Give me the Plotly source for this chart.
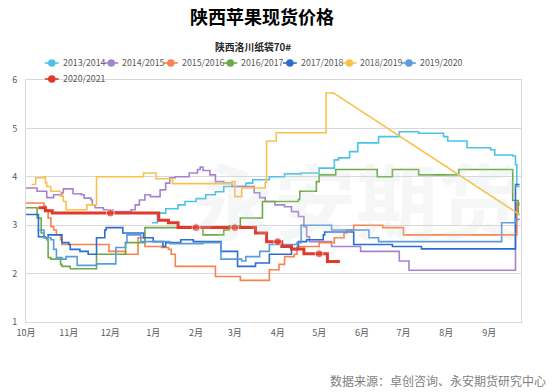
import plotly.graph_objects as go
from datetime import date, timedelta

# ---------------- data (days since 1 Oct, price in 元/斤) ----------------
seasons = ["2013/2014", "2014/2015", "2015/2016", "2016/2017",
           "2017/2018", "2018/2019", "2019/2020", "2020/2021"]
colors = ["#4cc2e9", "#a683cf", "#f7824c", "#6aab45",
          "#2e6dd0", "#f9c14c", "#5a9bdc", "#e2392b"]

days_1314 = [91, 95, 101, 110, 115, 123, 130, 137, 143, 159, 164, 176, 187, 199, 212, 223, 226, 234,
             240, 255, 270, 284, 302, 305, 319, 336, 339, 352, 354, 355, 357]
vals_1314 = [3.05, 3.25, 3.34, 3.42, 3.49, 3.55, 3.63, 3.69, 3.80, 3.87, 3.94, 4.00, 4.06, 4.08, 4.18, 4.35, 4.39, 4.52,
             4.70, 4.83, 4.93, 4.90, 4.83, 4.74, 4.60, 4.56, 4.45, 4.43, 4.25, 3.80, 3.80]

days_1415 = [0, 8, 15, 20, 26, 27, 34, 40, 42, 47, 48, 50, 56, 63, 76, 79, 82, 86, 90, 97, 101, 104, 108,
             118, 124, 126, 128, 133, 137, 143, 149, 165, 169, 173, 180, 187, 192, 197, 201, 203, 205,
             221, 242, 270, 277, 354, 357]
vals_1415 = [3.77, 3.70, 3.57, 3.63, 3.67, 3.75, 3.65, 3.63, 3.56, 3.52, 3.42, 3.36, 3.32, 3.28, 3.32, 3.42,
             3.52, 3.63, 3.59, 3.73, 3.87, 3.98, 4.00, 4.08, 4.15, 4.20, 4.13, 4.04, 3.90, 3.87, 3.80, 3.67,
             3.57, 3.49, 3.42, 3.38, 3.28, 3.18, 2.97, 2.76, 2.66, 2.56, 2.46, 2.26, 2.07, 3.46, 3.46]

days_1516 = [0, 13, 14, 16, 18, 20, 22, 25, 26, 60, 72, 81, 86, 98, 103, 105, 108, 137, 155, 176, 183,
             187, 194, 196, 212, 223, 230, 232, 237, 258, 273, 355, 357]
vals_1516 = [3.46, 3.40, 3.32, 3.15, 2.97, 2.90, 2.80, 2.70, 2.60, 2.46, 2.40, 2.74, 2.56, 2.54, 2.50, 2.40,
             2.15, 1.94, 1.86, 2.08, 2.19, 2.35, 2.40, 2.56, 2.64, 2.74, 2.84, 2.90, 3.00, 2.95, 2.80, 3.42, 3.42]

days_1617 = [0, 8, 11, 13, 15, 16, 18, 25, 26, 32, 51, 72, 86, 128, 143, 147, 155, 171, 197, 198, 210,
             212, 224, 254, 265, 284, 313, 352, 356, 357]
vals_1617 = [3.36, 3.15, 2.84, 2.74, 2.70, 2.33, 2.30, 2.19, 2.15, 2.10, 2.40, 2.64, 2.95, 2.80, 2.90, 2.99,
             3.15, 3.49, 3.53, 3.70, 3.90, 4.04, 4.15, 4.00, 4.15, 4.04, 4.15, 3.51, 3.22, 3.22]

days_1718 = [0, 9, 14, 16, 26, 31, 32, 39, 45, 51, 57, 58, 70, 85, 92, 99, 101, 112, 121, 141, 153, 166,
             176, 192, 197, 203, 215, 216, 237, 265, 286, 354, 357]
vals_1718 = [3.22, 2.76, 2.74, 2.80, 2.64, 2.60, 2.50, 2.46, 2.40, 2.74, 2.90, 2.95, 2.84, 2.74, 2.66, 2.56,
             2.64, 2.70, 2.66, 2.46, 2.15, 2.22, 2.40, 2.50, 2.66, 2.70, 2.80, 2.86, 2.60, 2.56, 2.51, 3.84, 3.84]

days_1819 = [4, 7, 13, 14, 15, 18, 25, 27, 29, 44, 51, 85, 94, 106, 149, 151, 156, 173, 174, 181, 217,
             222, 355, 357]
vals_1819 = [3.84, 3.98, 4.00, 3.88, 3.80, 3.70, 3.60, 3.49, 3.32, 3.42, 4.00, 4.08, 3.96, 3.86, 3.90, 3.59,
             3.77, 3.88, 4.74, 4.91, 5.73, 5.74, 3.25, 3.22]
gap_from_1819 = 222  # no quotes after this day: the line joins straight to the next quote

days_1920 = [8, 13, 18, 20, 22, 26, 29, 37, 51, 65, 72, 73, 83, 104, 128, 141, 156, 159, 169, 176, 196,
             199, 221, 248, 255, 344, 354, 357]
vals_1920 = [2.90, 2.74, 2.70, 2.50, 2.33, 2.30, 2.35, 2.17, 2.20, 2.54, 2.64, 2.80, 2.66, 2.62, 2.64, 2.30,
             2.26, 2.35, 2.46, 2.60, 2.64, 3.00, 2.90, 2.74, 2.66, 3.05, 3.12, 3.12]

days_2021 = [9, 14, 19, 61, 96, 103, 110, 123, 151, 166, 174, 182, 185, 192, 201, 212, 218, 227]
vals_2021 = [3.36, 3.30, 3.25, 3.25, 3.10, 3.05, 2.95, 2.95, 2.95, 2.84, 2.66, 2.66, 2.56, 2.51, 2.41, 2.41,
             2.25, 2.25]
marked_days_2021 = [61, 123, 151, 182, 212]

month_labels = ["10月", "11月", "12月", "1月", "2月", "3月", "4月", "5月", "6月", "7月", "8月", "9月"]
y_ticks = [1, 2, 3, 4, 5, 6]

all_days = [days_1314, days_1415, days_1516, days_1617, days_1718, days_1819, days_1920, days_2021]
all_vals = [vals_1314, vals_1415, vals_1516, vals_1617, vals_1718, vals_1819, vals_1920, vals_2021]

# ---------------- figure ----------------
BASE = date(2014, 10, 1)


def to_dates(ds):
    return [BASE + timedelta(days=d) for d in ds]


month_starts = []
y, m = 2014, 10
for _ in month_labels:
    month_starts.append(date(y, m, 1))
    m += 1
    if m > 12:
        m, y = 1, y + 1

W, H = 556, 392
PL, PR, PT, PB = 22, 521, 80, 322
FONT = "Noto Sans CJK SC"


def px_x(p):
    return (p - PL) / (PR - PL)


def px_y(p):
    return (PB - p) / (PB - PT)


fig = go.Figure()

for i, name in enumerate(seasons):
    ds, vs, col = all_days[i], all_vals[i], colors[i]
    width = 3 if name == "2020/2021" else 1.6
    if name == "2018/2019":
        k = ds.index(gap_from_1819)
        fig.add_trace(go.Scatter(x=to_dates(ds[:k + 1]), y=vs[:k + 1], mode="lines", name=name,
                                 line=dict(color=col, width=width, shape="hv"), showlegend=False))
        fig.add_trace(go.Scatter(x=to_dates(ds[k:]), y=vs[k:], mode="lines", name=name,
                                 line=dict(color=col, width=width, shape="linear"), showlegend=False))
    elif name == "2020/2021":
        sizes = [8 if d in marked_days_2021 else 0 for d in ds]
        fig.add_trace(go.Scatter(x=to_dates(ds), y=vs, mode="lines+markers", name=name,
                                 line=dict(color=col, width=width, shape="hv"),
                                 marker=dict(color=col, size=sizes), showlegend=False))
    else:
        fig.add_trace(go.Scatter(x=to_dates(ds), y=vs, mode="lines", name=name,
                                 line=dict(color=col, width=width, shape="hv"), showlegend=False))

# legend drawn as shapes + text (two rows, like the original)
shapes = []
annotations = []
for i, name in enumerate(seasons):
    row, colx = (0, i) if i < 7 else (1, i - 7)
    cx = 48 + 60 * colx
    cy = 63 + 16 * row
    col = colors[i]
    shapes.append(dict(type="line", xref="paper", yref="paper",
                       x0=px_x(cx - 7), x1=px_x(cx + 7), y0=px_y(cy), y1=px_y(cy),
                       line=dict(color=col, width=1.6)))
    shapes.append(dict(type="circle", xref="paper", yref="paper",
                       x0=px_x(cx - 3.8), x1=px_x(cx + 3.8), y0=px_y(cy + 3.8), y1=px_y(cy - 3.8),
                       fillcolor=col, line=dict(width=0)))
    annotations.append(dict(text=name, xref="paper", yref="paper", x=px_x(cx + 9), y=px_y(cy),
                            xanchor="left", yanchor="middle", showarrow=False,
                            font=dict(family=FONT, size=8.8, color="#595959")))

# watermark
annotations.append(dict(text="永安期货", xref="paper", yref="paper", x=px_x(355), y=px_y(197),
                        showarrow=False, xanchor="center", yanchor="middle",
                        font=dict(family=FONT, size=82, color="rgba(205,215,215,0.2)", weight="bold")))
# subtitle
annotations.append(dict(text="陕西洛川纸袋70#", xref="paper", yref="paper", x=px_x(251), y=px_y(47),
                        showarrow=False, xanchor="center", yanchor="middle",
                        font=dict(family=FONT, size=9.8, color="#262626", weight="bold")))
# source
annotations.append(dict(text="数据来源：卓创咨询、永安期货研究中心", xref="paper", yref="paper",
                        x=px_x(548), y=px_y(380), showarrow=False, xanchor="right", yanchor="middle",
                        font=dict(family=FONT, size=12, color="#7f7f7f")))

fig.update_layout(
    width=W, height=H, autosize=False,
    margin=dict(l=PL, r=W - PR, t=PT, b=H - PB, pad=0),
    paper_bgcolor="white", plot_bgcolor="white",
    title=dict(text="陕西苹果现货价格", x=262 / W, y=1 - 18 / H, xref="container", yref="container",
               xanchor="center", yanchor="middle",
               font=dict(family=FONT, size=18, color="#000000", weight="bold")),
    showlegend=False,
    shapes=shapes,
    annotations=annotations,
    font=dict(family=FONT, color="#595959"),
)

fig.update_xaxes(
    type="date",
    range=[BASE, BASE + timedelta(days=358)],
    tickvals=month_starts, ticktext=month_labels,
    tickfont=dict(family=FONT, size=9, color="#595959"),
    showgrid=False, zeroline=False,
    showline=True, linecolor="#d9d9d9", linewidth=1, mirror=True,
    ticks="", ticklabelstandoff=2,
)
fig.update_yaxes(
    range=[1, 6], tickvals=y_ticks,
    tickfont=dict(family=FONT, size=9, color="#595959"),
    showgrid=True, gridcolor="#d9d9d9", gridwidth=1, zeroline=False,
    showline=True, linecolor="#d9d9d9", linewidth=1, mirror=True,
    ticks="", ticklabelstandoff=6,
)

fig.write_html("out.html", config={"displayModeBar": False},
               post_script="document.body.style.margin='0';document.body.style.overflow='hidden';")
